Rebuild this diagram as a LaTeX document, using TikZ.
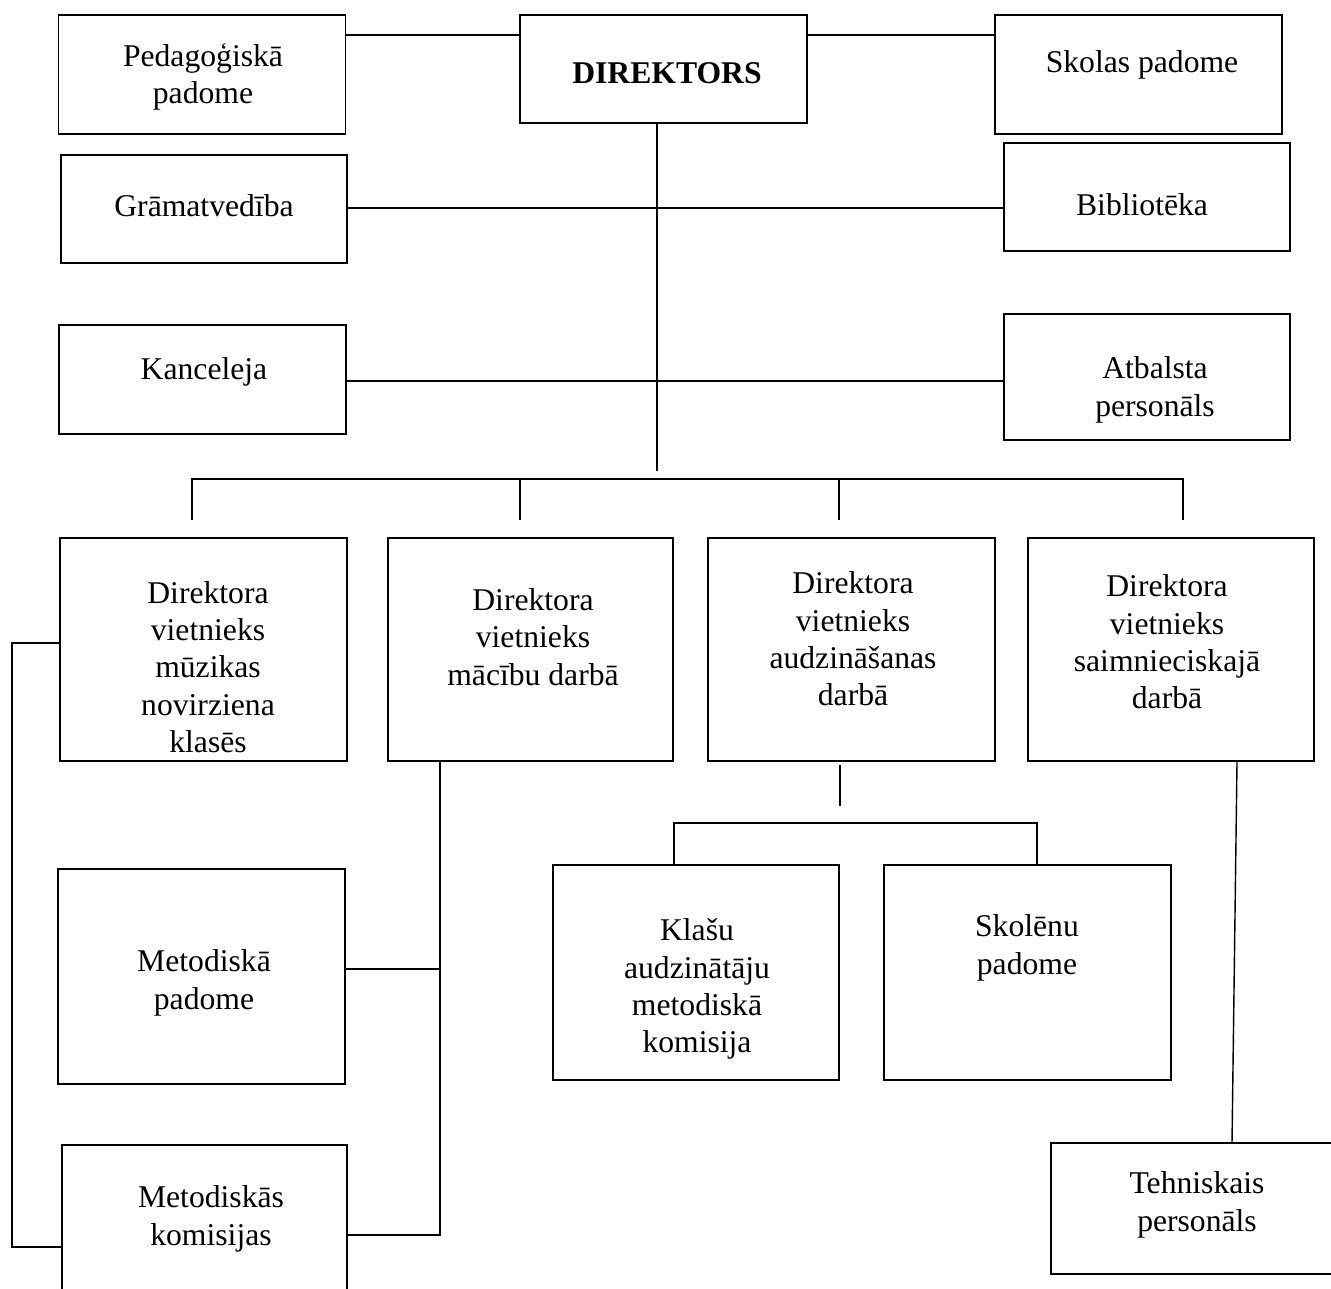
\documentclass[tikz,border=0pt]{standalone}
\usepackage{fontspec}
\setmainfont{Liberation Serif}
\usepackage{tikz}

\begin{document}
\begin{tikzpicture}[x=0.01cm, y=-0.01cm, line width=0.4pt,
    box/.style = {draw, line width=0.5pt, rectangle, inner sep=0pt, minimum width=2.87cm},
    txt/.style = {align=center, inner sep=0pt, yshift=-0.03cm, font=\fontsize{9}{10.6}\selectfont}]
    \clip (0,0) rectangle (1331,1289);
    % boxes
    \node[box, minimum height=1.19cm] (ped) at (202,74.5) {};
    \node[box, minimum height=1.08cm] (dir) at (663.5,69) {};
    \node[box, minimum height=1.19cm] (skolas) at (1138.5,74.5) {};
    \node[box, minimum height=1.08cm, minimum width=2.86cm] (gram) at (204,209) {};
    \node[box, minimum height=1.08cm, minimum width=2.86cm] (bibl) at (1147,197) {};
    \node[box, minimum height=1.09cm] (kanc) at (202.5,379.5) {};
    \node[box, minimum height=1.26cm, minimum width=2.86cm] (atb) at (1147,377) {};
    \node[box, minimum height=2.23cm] (muz) at (203.5,649.5) {};
    \node[box, minimum height=2.23cm, minimum width=2.85cm] (mac) at (530.5,649.5) {};
    \node[box, minimum height=2.23cm] (audz) at (851.5,649.5) {};
    \node[box, minimum height=2.23cm, minimum width=2.86cm] (saim) at (1171,649.5) {};
    \node[box, minimum height=2.15cm] (metp) at (201.5,976.5) {};
    \node[box, minimum height=2.50cm, minimum width=2.85cm] (kom) at (204.5,1270) {};
    \node[box, minimum height=2.15cm, minimum width=2.86cm] (klasu) at (696,972.5) {};
    \node[box, minimum height=2.15cm] (skolenu) at (1027.5,972.5) {};
    \node[box, minimum height=1.31cm, minimum width=2.94cm] (tehn) at (1198,1208.5) {};
    % texts
    \node[txt] (ped-t) at (203,74) {Pedagoģiskā\\padome};
    \node[txt, font=\fontsize{9}{10.6}\selectfont\bfseries] (dir-t) at (667,70) {DIREKTORS};
    \node[txt] (skolas-t) at (1142,62) {Skolas padome};
    \node[txt] (gram-t) at (204,203) {Grāmatvedība};
    \node[txt] (bibl-t) at (1142,202) {Bibliotēka};
    \node[txt] (kanc-t) at (204,369) {Kanceleja};
    \node[txt] (atb-t) at (1155,387) {Atbalsta\\personāls};
    \node[txt] (muz-t) at (208,664) {Direktora\\vietnieks\\mūzikas\\novirziena\\klasēs};
    \node[txt] (mac-t) at (533,634) {Direktora\\vietnieks\\mācību darbā};
    \node[txt] (audz-t) at (853,636) {Direktora\\vietnieks\\audzināšanas\\darbā};
    \node[txt] (saim-t) at (1167,639) {Direktora\\vietnieks\\saimnieciskajā\\darbā};
    \node[txt] (metp-t) at (204,980) {Metodiskā\\padome};
    \node[txt] (kom-t) at (211,1216) {Metodiskās\\komisijas};
    \node[txt] (klasu-t) at (697,986) {Klašu\\audzinātāju\\metodiskā\\komisija};
    \node[txt] (skolenu-t) at (1027,945) {Skolēnu\\padome};
    \node[txt] (tehn-t) at (1197,1202) {Tehniskais\\personāls};
    % helper coordinates
    \coordinate (top) at (0,35);
    \coordinate (trunk) at (657,471);
    \coordinate (bar) at (0,479);
    \coordinate (t1) at (192,520);
    \coordinate (t2) at (520,520);
    \coordinate (t3) at (839,520);
    \coordinate (t4) at (1183,520);
    \coordinate (a1) at (840,765);
    \coordinate (a2) at (840,806);
    \coordinate (sub) at (0,823);
    \coordinate (s1) at (674,0);
    \coordinate (s2) at (1037,0);
    \coordinate (spine) at (440,0);
    \coordinate (rail) at (12,0);
    % connectors
    \draw (ped.east |- top) -- (dir.west |- top);
    \draw (dir.east |- top) -- (skolas.west |- top);
    \draw (dir.south -| trunk) -- (trunk);
    \draw (gram.east |- 0,208) -- (bibl.west |- 0,208);
    \draw (kanc.east |- 0,381) -- (atb.west |- 0,381);
    \draw (t1) -- (t1 |- bar) -- (t4 |- bar) -- (t4);
    \draw (t2 |- bar) -- (t2);
    \draw (t3 |- bar) -- (t3);
    \draw (a1) -- (a2);
    \draw (klasu.north -| s1) -- (s1 |- sub) -- (s2 |- sub) -- (skolenu.north -| s2);
    \draw (mac.south -| spine) -- (spine |- 0,1235) -- (kom.east |- 0,1235);
    \draw (metp.east |- 0,969) -- (spine |- 0,969);
    \draw (muz.west |- 0,643) -- (rail |- 0,643) -- (rail |- 0,1247) -- (kom.west |- 0,1247);
    \draw (saim.south -| 1237,0) -- (tehn.north -| 1232,0);
\end{tikzpicture}
\end{document}
